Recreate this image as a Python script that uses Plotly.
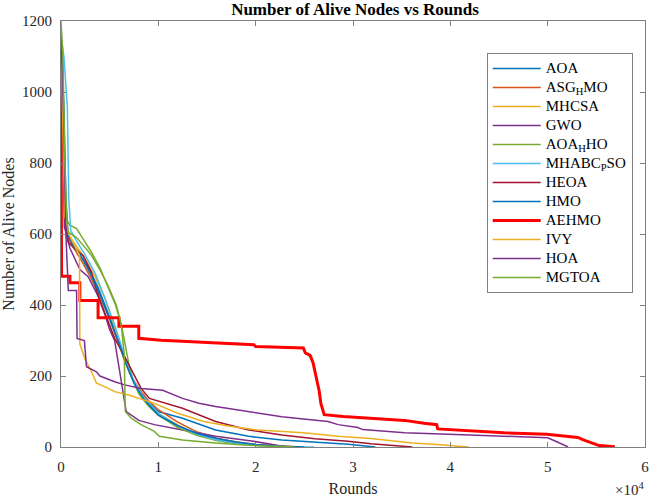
import plotly.graph_objects as go

# ---------------- data ----------------
names = ["AOA", "ASG<sub>H</sub>MO", "MHCSA", "GWO", "AOA<sub>H</sub>HO",
         "MHABC<sub>P</sub>SO", "HEOA", "HMO", "AEHMO", "IVY", "HOA", "MGTOA"]
colors = ["#0072BD", "#D95319", "#EDB120", "#7E2F8E", "#77AC30",
          "#4DBEEE", "#A2142F", "#0072BD", "#FF0000", "#EDB120", "#7E2F8E", "#77AC30"]

aoa_x = [0, 200, 400, 600, 1000, 1800, 2800, 3800, 4800, 5800, 6500, 7200, 8000, 9000, 10000, 12480, 15880, 19290, 22690, 26090, 29490, 32300]
aoa_y = [1160, 950, 700, 600, 580, 550, 505, 450, 380, 310, 250, 200, 160, 125, 100, 81, 48, 30, 20, 14, 8, 0]

asg_x = [0, 200, 400, 600, 1000, 2000, 3000, 4000, 5000, 5800, 6500, 7200, 8000, 9000, 10000, 12000, 14000, 16000, 18000, 20000, 22000, 24500]
asg_y = [1150, 950, 700, 600, 575, 530, 480, 425, 360, 300, 245, 200, 165, 130, 105, 70, 42, 25, 14, 7, 3, 0]

mhcsa_x = [0, 200, 400, 700, 1500, 2500, 3500, 4500, 5500, 6000, 6500, 7000, 8000, 9000, 10000, 12000, 14000, 16000, 18000, 20000, 22000, 25000]
mhcsa_y = [1150, 900, 650, 600, 570, 530, 480, 420, 340, 290, 250, 210, 160, 120, 95, 62, 35, 18, 10, 5, 2, 0]

gwo_x = [0, 150, 350, 920, 1940, 2790, 3810, 4490, 5000, 5510, 6000, 6700, 8000, 9590, 12480, 14700, 15880, 19800, 22000, 23200]
gwo_y = [1150, 900, 620, 560, 500, 480, 425, 375, 330, 300, 220, 100, 75, 63, 48, 35, 30, 16, 6, 0]

aoahho_x = [0, 200, 400, 600, 900, 1600, 2300, 3100, 4000, 4800, 5600, 6200, 6600, 7000, 7500, 8000, 9000, 10000, 12000, 14000, 16000, 18000, 20000, 22000, 24000]
aoahho_y = [1190, 1050, 750, 640, 625, 615, 585, 550, 505, 455, 400, 345, 290, 230, 180, 150, 115, 90, 55, 32, 18, 9, 4, 1, 0]

mhabc_x = [0, 300, 650, 800, 1000, 1500, 2500, 3500, 4500, 5500, 6200, 6800, 7500, 8500, 10000, 12000, 14000, 16000, 18000, 20000, 23000, 26000]
mhabc_y = [1160, 1100, 960, 700, 610, 585, 540, 490, 420, 345, 285, 230, 185, 140, 95, 60, 36, 20, 11, 5, 1, 0]

heoa_x = [0, 200, 400, 750, 1430, 2280, 3130, 3810, 4490, 5510, 6190, 7210, 8230, 9080, 12480, 15880, 19290, 22690, 26090, 29490, 31840, 36100]
heoa_y = [1150, 900, 650, 577, 558, 539, 492, 427, 380, 306, 273, 221, 165, 137, 109, 72, 48, 34, 23, 16, 9, 0]

hmo_x = [0, 300, 500, 700, 1200, 2000, 3000, 4000, 5000, 6000, 6600, 7500, 8500, 10000, 12000, 14000, 16000, 18000, 20000, 22000, 25000]
hmo_y = [1150, 950, 700, 600, 570, 540, 490, 430, 360, 290, 240, 180, 135, 90, 60, 38, 24, 14, 7, 3, 0]

aehmo_x = [0, 60, 920, 920, 1940, 1940, 3810, 3810, 5950, 5950, 7990, 7990, 10300, 14700, 19800, 20000, 24900, 25100, 25600, 25900, 26150, 26360, 26530, 26700, 26870, 27040, 29000, 32500, 35300, 37300, 38600, 38700, 42000, 45500, 49900, 53100, 53600, 54700, 55300, 56900]
aehmo_y = [985, 481, 481, 463, 463, 413, 413, 364, 364, 340, 340, 306, 301, 294, 288, 283, 279, 265, 258, 237, 205, 175, 157, 123, 105, 91, 86, 81, 75, 67, 63, 51, 45, 40, 36, 27, 21, 9, 4, 1]

ivy_x = [0, 200, 400, 800, 1900, 1940, 2450, 3130, 3640, 4490, 5510, 6870, 8570, 9590, 12000, 14690, 17000, 19800, 24900, 28470, 31840, 36090, 38670, 41400, 41900]
ivy_y = [1160, 900, 650, 600, 540, 290, 249, 212, 180, 170, 156, 147, 133, 123, 95, 72, 60, 49, 40, 30, 24, 11, 7, 2, 0]

hoa_x = [0, 300, 500, 750, 1600, 1650, 2400, 2500, 2620, 3640, 4000, 5510, 6530, 8230, 9590, 10440, 12480, 14180, 15880, 19290, 22690, 24900, 27450, 28470, 30500, 31000, 35300, 42000, 48900, 50000, 51000, 52100]
hoa_y = [1170, 900, 600, 441, 441, 306, 300, 250, 226, 212, 200, 184, 175, 165, 161, 160, 137, 123, 114, 100, 85, 79, 72, 63, 55, 49, 40, 34, 27, 26, 14, 0]

mgtoa_x = [0, 200, 400, 600, 750, 1600, 2280, 3130, 3980, 4830, 5680, 6190, 6500, 6600, 7210, 8230, 9590, 10100, 12480, 14690, 15880, 19290, 22690, 24000]
mgtoa_y = [1200, 1100, 800, 640, 605, 590, 568, 540, 500, 455, 400, 345, 260, 100, 81, 63, 44, 30, 20, 14, 11, 5, 1, 0]

series_x = [aoa_x, asg_x, mhcsa_x, gwo_x, aoahho_x, mhabc_x, heoa_x, hmo_x, aehmo_x, ivy_x, hoa_x, mgtoa_x]
series_y = [aoa_y, asg_y, mhcsa_y, gwo_y, aoahho_y, mhabc_y, heoa_y, hmo_y, aehmo_y, ivy_y, hoa_y, mgtoa_y]

x_tickvals = [0, 10000, 20000, 30000, 40000, 50000, 60000]
x_ticktext = ["0", "1", "2", "3", "4", "5", "6"]
y_tickvals = [0, 200, 400, 600, 800, 1000, 1200]

FONT = "Liberation Serif, Times New Roman, serif"

fig = go.Figure()
for nm, col, xs, ys in zip(names, colors, series_x, series_y):
    fig.add_trace(go.Scatter(
        x=xs, y=ys, mode="lines",
        name="<span style='font-size:15px'>" + nm + "</span>",
        line=dict(color=col, width=3 if nm == "AEHMO" else 1.5),
    ))

axis_common = dict(
    showline=True, linecolor="#808080", linewidth=1, mirror="ticks",
    ticks="inside", ticklen=5, tickcolor="#808080",
    showgrid=False, zeroline=False,
    tickfont=dict(family=FONT, size=15, color="#262626"),
)

fig.update_layout(
    width=653, height=498,
    margin=dict(l=61, r=4, t=21, b=49),
    paper_bgcolor="white", plot_bgcolor="white",
    font=dict(family=FONT, color="#262626"),
    title=dict(text="<b>Number of Alive Nodes vs Rounds</b>",
               font=dict(family=FONT, size=17, color="black"),
               x=0.5436, xanchor="center", y=0.981, yanchor="middle"),
    xaxis=dict(range=[0, 60000], tickvals=x_tickvals, ticktext=x_ticktext,
               ticklabelstandoff=6,
               title=dict(text="Rounds", font=dict(family=FONT, size=16), standoff=8),
               **axis_common),
    yaxis=dict(range=[0, 1200], tickvals=y_tickvals,
               ticklabelstandoff=5,
               title=dict(text="Number of Alive Nodes", font=dict(family=FONT, size=16), standoff=6),
               **axis_common),
    legend=dict(x=0.729, y=0.925, xanchor="left", yanchor="top",
                bgcolor="white", bordercolor="#808080", borderwidth=1,
                font=dict(family=FONT, size=12, color="black"),
                tracegroupgap=0, itemwidth=48),
    showlegend=True,
    annotations=[dict(text="×10<sup>4</sup>", xref="paper", yref="paper",
                      x=1.002, y=-0.098, xanchor="right", yanchor="middle",
                      showarrow=False, font=dict(family=FONT, size=15, color="#262626"))],
)

fig.write_html("out.html")
